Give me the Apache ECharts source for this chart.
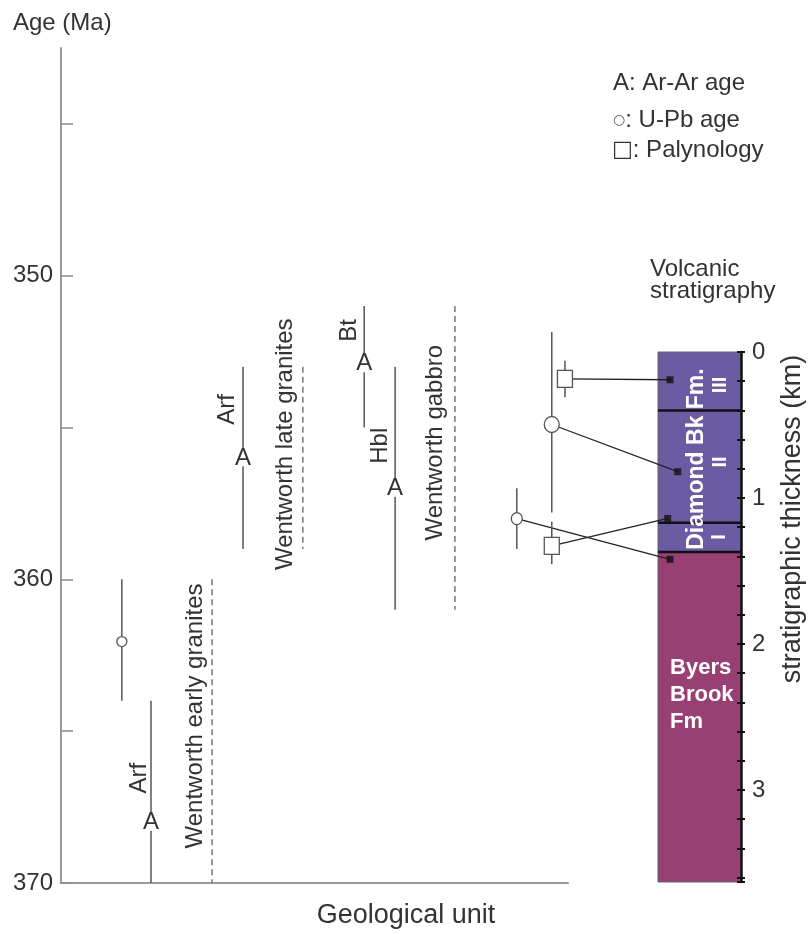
<!DOCTYPE html>
<html><head><meta charset="utf-8">
<script src="https://cdn.jsdelivr.net/npm/echarts@6/dist/echarts.min.js"></script>
<style>html,body{margin:0;padding:0;background:#fff}#c{width:809px;height:934px}</style>
</head><body><div id="c"></div>
<script>
// ---------------- data ----------------
const ageTickValues = [345, 350, 355, 360, 365, 370];
const ageLabelValues = [350, 360, 370];
const depthLabelValues = [0, 1, 2, 3];

// Ar-Ar ages ("A")
const arMineral = ['Arf', 'Arf', 'Bt', 'Hbl'];
const arUnitX = [17.75, 35.9, 59.8, 65.9];
const arAge = [368.0, 356.0, 352.9, 357.0];
const arMin = [364.0, 353.0, 351.0, 353.0];
const arMax = [370.0, 359.0, 355.0, 361.0];

// U-Pb ages (circles)
const upbUnitX = [12.0, 89.9, 96.8];
const upbAge = [362.05, 358.0, 354.9];
const upbMin = [360.0, 357.0, 351.85];
const upbMax = [364.0, 359.0, 357.8];

// Palynology (squares)
const palUnitX = [99.4, 96.8];
const palAge = [353.4, 358.9];
const palMin = [352.8, 358.1];
const palMax = [354.0, 359.5];

// Geological units (dashed age ranges)
const unitNames = ['Wentworth early granites', 'Wentworth late granites', 'Wentworth gabbro'];
const unitX = [29.8, 47.7, 77.7];
const unitMin = [360, 353, 351];
const unitMax = [370, 359, 361];

// Volcanic stratigraphy column (depth in km)
const formationNames = ['Diamond Bk Fm. III', 'Diamond Bk Fm. II', 'Diamond Bk Fm. I', 'Byers Brook Fm'];
const formationTop = [0, 0.4, 1.17, 1.37];
const formationBase = [0.4, 1.17, 1.37, 3.63];
const columnBase = 3.63;

// Correlations: dated sample -> stratigraphic position
const linkFromX = [99.4, 96.8, 96.8, 89.9];
const linkFromAge = [353.4, 354.9, 358.9, 358.0];
const linkColumnX = [0.145, 0.237, 0.117, 0.145];
const linkDepth = [0.19, 0.82, 1.14, 1.42];

// legend texts
const legendTexts = ['A: Ar-Ar age', '{c|○}: U-Pb age', '{s|□}: Palynology'];

// ---------------- layout / style ----------------
const FONT = 'Liberation Sans, Arial, DejaVu Sans, sans-serif';
const TXT = '#333';
const LINE = '#555';
const mineralLabelPos = [[15.4, 366.55], [32.8, 354.4], [56.8, 351.8], [63.0, 355.6]];
const unitLabelPos = [[26.6, 364.5], [44.2, 355.55], [73.8, 355.5]];
const upbSize = [[10, 10], [11, 12], [15, 16]];
const palSize = [[15, 17], [15, 17]];
const formationColors = ['#6B5BA3', '#6B5BA3', '#6B5BA3', '#983F73'];

const chart = echarts.init(document.getElementById('c'), null, {renderer: 'canvas'});

function vline(api, x, a, b, style) {
  const p1 = api.coord([x, a]), p2 = api.coord([x, b]);
  return {type: 'line', shape: {x1: p1[0], y1: p1[1], x2: p2[0], y2: p2[1]}, style: style};
}
function rotText(api, pos, text, size, extra) {
  const p = api.coord(pos);
  return {type: 'text', x: p[0], y: p[1], rotation: Math.PI / 2,
    style: Object.assign({text: text, fill: TXT, fontSize: size, fontFamily: FONT, align: 'center', verticalAlign: 'middle'}, extra || {})};
}

const option = {
  animation: false,
  backgroundColor: '#fff',
  grid: [
    {left: 61, top: 48, width: 507, height: 835},
    {left: 658, top: 352, width: 83, height: 530}
  ],
  xAxis: [
    {gridIndex: 0, type: 'value', min: 0, max: 100,
      axisLine: {show: true, onZero: false, lineStyle: {color: '#9a9a9a', width: 2}},
      axisTick: {show: false}, axisLabel: {show: false}, splitLine: {show: false}},
    {gridIndex: 1, type: 'value', min: 0, max: 1, show: false}
  ],
  yAxis: [
    {gridIndex: 0, type: 'value', inverse: true, min: 342.5, max: 370,
      axisLine: {show: true, onZero: false, lineStyle: {color: '#9a9a9a', width: 2}},
      axisTick: {show: true, inside: true, length: 12, customValues: ageTickValues, lineStyle: {color: '#8a8a8a', width: 1.5}},
      axisLabel: {show: true, customValues: ageLabelValues, fontSize: 24, color: TXT, fontFamily: FONT, margin: 8},
      splitLine: {show: false}},
    {gridIndex: 1, type: 'value', inverse: true, min: 0, max: columnBase, interval: 0.2, position: 'right', z: 6,
      axisLine: {show: true, onZero: false, lineStyle: {color: '#111', width: 2.5}},
      axisTick: {show: true, inside: false, length: 4, lineStyle: {color: '#111', width: 2}},
      axisLabel: {show: true, customValues: depthLabelValues, fontSize: 24, color: TXT, fontFamily: FONT, margin: 11},
      splitLine: {show: false}},
    // same scale, placed on the column's right edge, ticks pointing into the column
    {gridIndex: 1, type: 'value', inverse: true, min: 0, max: columnBase, interval: 0.2, position: 'left', offset: -83, z: 6,
      axisLine: {show: false, onZero: false},
      axisTick: {show: true, inside: false, length: 4, lineStyle: {color: '#111', width: 2}},
      axisLabel: {show: false}, splitLine: {show: false}}
  ],
  graphic: [
    {type: 'text', x: 13, y: 23, style: {text: 'Age (Ma)', fontSize: 24, fill: TXT, fontFamily: FONT, align: 'left', verticalAlign: 'middle'}},
    {type: 'text', x: 406, y: 916, style: {text: 'Geological unit', fontSize: 27, fill: TXT, fontFamily: FONT, align: 'center', verticalAlign: 'middle'}},
    {type: 'text', x: 793, y: 519, rotation: Math.PI / 2, style: {text: 'stratigraphic thickness (km)', fontSize: 27, fill: TXT, fontFamily: FONT, align: 'center', verticalAlign: 'middle'}},
    {type: 'text', x: 650, y: 280, style: {text: 'Volcanic\nstratigraphy', fontSize: 24, lineHeight: 22, fill: TXT, fontFamily: FONT, align: 'left', verticalAlign: 'middle'}},
    {type: 'text', x: 613, y: 83, style: {text: legendTexts[0], fontSize: 24, fill: TXT, fontFamily: FONT, align: 'left', verticalAlign: 'middle'}},
    {type: 'text', x: 613, y: 120, style: {text: legendTexts[1], fontSize: 24, fill: TXT, fontFamily: FONT, align: 'left', verticalAlign: 'middle',
      rich: {c: {fontSize: 14, fontFamily: 'DejaVu Sans', fill: '#555'}}}},
    {type: 'text', x: 612, y: 150, style: {text: legendTexts[2], fontSize: 24, fill: TXT, fontFamily: FONT, align: 'left', verticalAlign: 'middle',
      rich: {s: {fontSize: 22, fontFamily: 'DejaVu Sans', fill: TXT}}}}
  ],
  series: [
    // geological unit dashed ranges + labels
    {type: 'custom', xAxisIndex: 0, yAxisIndex: 0, z: 2, clip: false,
      data: unitNames.map((n, i) => [unitX[i], unitMin[i], unitMax[i], i]),
      renderItem: function (params, api) {
        const i = api.value(3);
        return {type: 'group', children: [
          vline(api, api.value(0), api.value(1), api.value(2), {stroke: '#777', lineWidth: 1.5, lineDash: [6, 4]}),
          rotText(api, unitLabelPos[i], unitNames[i], 24)
        ]};
      }},
    // Ar-Ar ranges with "A" and mineral label
    {type: 'custom', xAxisIndex: 0, yAxisIndex: 0, z: 3, clip: false,
      data: arMineral.map((m, i) => [arUnitX[i], arAge[i], arMin[i], arMax[i], i]),
      renderItem: function (params, api) {
        const i = api.value(4);
        const p = api.coord([api.value(0), api.value(1)]);
        return {type: 'group', children: [
          vline(api, api.value(0), api.value(2), api.value(3), {stroke: LINE, lineWidth: 1.5}),
          {type: 'text', x: p[0], y: p[1], z2: 5, style: {text: 'A', fill: TXT, fontSize: 24, fontFamily: FONT, align: 'center', verticalAlign: 'middle',
            backgroundColor: '#fff', lineHeight: 17, padding: [0, 0]}},
          rotText(api, mineralLabelPos[i], arMineral[i], 24)
        ]};
      }},
    // correlation connectors (drawn beneath markers)
    {type: 'custom', xAxisIndex: 0, yAxisIndex: 0, z: 4, clip: false,
      data: linkFromX.map((x, i) => [x, linkFromAge[i], linkColumnX[i], linkDepth[i]]),
      renderItem: function (params, api) {
        const p1 = api.coord([api.value(0), api.value(1)]);
        let p2 = null;
        try { p2 = chart.convertToPixel({gridIndex: 1}, [api.value(2), api.value(3)]); } catch (e) { p2 = null; }
        if (!p2) return null;
        return {type: 'line', shape: {x1: p1[0], y1: p1[1], x2: p2[0], y2: p2[1]}, style: {stroke: '#222', lineWidth: 1.3}};
      }},
    // U-Pb
    {type: 'custom', xAxisIndex: 0, yAxisIndex: 0, z: 5, clip: false,
      data: upbUnitX.map((x, i) => [x, upbAge[i], upbMin[i], upbMax[i], i]),
      renderItem: function (params, api) {
        const i = api.value(4);
        const p = api.coord([api.value(0), api.value(1)]);
        return {type: 'group', children: [
          vline(api, api.value(0), api.value(2), api.value(3), {stroke: LINE, lineWidth: 1.5}),
          {type: 'ellipse', shape: {cx: p[0], cy: p[1], rx: upbSize[i][0] / 2, ry: upbSize[i][1] / 2}, style: {fill: '#fff', stroke: LINE, lineWidth: 1.3}}
        ]};
      }},
    // Palynology
    {type: 'custom', xAxisIndex: 0, yAxisIndex: 0, z: 5, clip: false,
      data: palUnitX.map((x, i) => [x, palAge[i], palMin[i], palMax[i], i]),
      renderItem: function (params, api) {
        const i = api.value(4);
        const p = api.coord([api.value(0), api.value(1)]);
        const w = palSize[i][0], h = palSize[i][1];
        return {type: 'group', children: [
          vline(api, api.value(0), api.value(2), api.value(3), {stroke: LINE, lineWidth: 1.5}),
          {type: 'rect', shape: {x: p[0] - w / 2, y: p[1] - h / 2, width: w, height: h}, style: {fill: '#fff', stroke: LINE, lineWidth: 1.3}}
        ]};
      }},
    // stratigraphic column
    {type: 'custom', xAxisIndex: 1, yAxisIndex: 1, z: 1, clip: false,
      data: formationNames.map((n, i) => [0, formationTop[i], 1, formationBase[i], i]),
      renderItem: function (params, api) {
        const i = api.value(4);
        const p1 = api.coord([api.value(0), api.value(1)]);
        const p2 = api.coord([api.value(2), api.value(3)]);
        const children = [
          {type: 'rect', shape: {x: p1[0], y: p1[1], width: p2[0] - p1[0], height: p2[1] - p1[1]},
            style: {fill: formationColors[i], stroke: '#666', lineWidth: 1}}
        ];
        if (i > 0) {
          children.push({type: 'line', shape: {x1: p1[0], y1: p1[1], x2: p2[0], y2: p1[1]}, style: {stroke: '#111', lineWidth: 2.5}});
        }
        return {type: 'group', children: children};
      }},
    // column labels
    {type: 'custom', xAxisIndex: 1, yAxisIndex: 1, z: 3, clip: false,
      data: [[0]],
      renderItem: function (params, api) {
        const W = {fill: '#fff', fontWeight: 'bold'};
        return {type: 'group', children: [
          rotText(api, [0.47, 0.733], 'Diamond Bk Fm.', 23, W),
          rotText(api, [0.75, 0.226], 'III', 20, W),
          rotText(api, [0.75, 0.753], 'II', 20, W),
          rotText(api, [0.74, 1.267], 'I', 20, W),
          (function () { const p = api.coord([0.145, 2.35]);
            return {type: 'text', x: p[0], y: p[1], style: {text: 'Byers\nBrook\nFm', fill: '#fff', fontWeight: 'bold', fontSize: 22, lineHeight: 27,
              fontFamily: FONT, align: 'left', verticalAlign: 'middle'}}; })()
        ]};
      }},
    // stratigraphic positions of samples
    {type: 'scatter', xAxisIndex: 1, yAxisIndex: 1, z: 6, symbol: 'rect', symbolSize: 7,
      itemStyle: {color: '#111'}, silent: true,
      data: linkColumnX.map((x, i) => [x, linkDepth[i]])}
  ]
};
chart.setOption(option);
// second pass so connectors can reference the laid-out column axis
chart.setOption({series: option.series});
</script></body></html>
